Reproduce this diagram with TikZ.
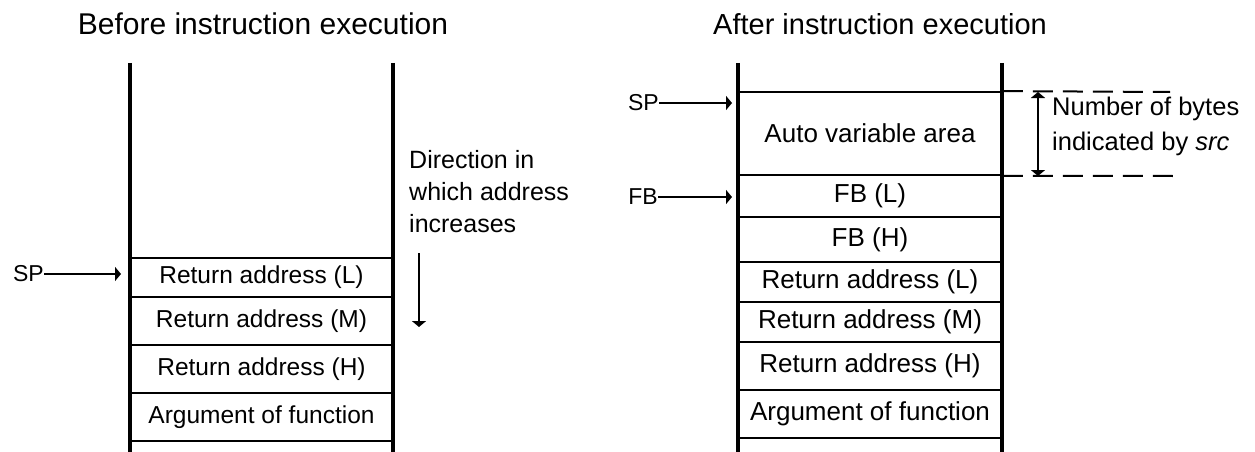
\documentclass[tikz,border=0pt]{standalone}
\usepackage{fontspec}
\setmainfont{Liberation Sans}
\usetikzlibrary{arrows.meta}

\begin{document}
\begin{tikzpicture}[x=1pt, y=-1pt, >={Triangle[length=6pt,width=14pt]}, every node/.style={inner sep=0pt},
  cell/.style={draw, line width=1.8pt, minimum width=263pt, font=\fontsize{24.5}{28}\selectfont},
  rcell/.style={cell, minimum width=264pt, font=\fontsize{26}{30}\selectfont},
  wall/.style={line width=3.6pt}, ptr/.style={anchor=east, font=\fontsize{23}{26}\selectfont},
  title/.style={anchor=base, font=\fontsize{29}{34}\selectfont}, gap/.style={line width=2pt, dash pattern=on 20pt off 10pt}]
\useasboundingbox (0,0) rectangle (1255,452);
\node[title, font=\fontsize{30}{34}\selectfont] (before) at (263,35) {Before instruction execution};
\node[title] (after) at (880,35) {After instruction execution};
\node[cell, minimum height=39pt] (LRAL) at (261.5,277.5) {Return address (L)};
\node[cell, minimum height=48pt] (LRAM) at (261.5,321) {Return address (M)};
\node[cell, minimum height=48pt] (LRAH) at (261.5,369) {Return address (H)};
\node[cell, minimum height=48pt] (LARG) at (261.5,417) {Argument of function};
\node[rcell, minimum height=83pt] (AUTO) at (870,133.5) {Auto variable area};
\node[rcell, minimum height=42pt] (FBL) at (870,196) {FB (L)};
\node[rcell, minimum height=45pt] (FBH) at (870,239.5) {FB (H)};
\node[rcell, minimum height=40pt] (RRAL) at (870,282) {Return address (L)};
\node[rcell, minimum height=40pt] (RRAM) at (870,322) {Return address (M)};
\node[rcell, minimum height=48pt] (RRAH) at (870,366) {Return address (H)};
\node[rcell, minimum height=48pt] (RARG) at (870,414) {Argument of function};
\draw[wall] (130,63) -- (130,452); \draw[wall] (393,63) -- (393,452);
\draw[wall] (738,63) -- (738,452); \draw[wall] (1002,63) -- (1002,452);
\node[ptr] (SPL) at (44,274) {SP};
\node[ptr] (SPR) at (659,103) {SP};
\node[ptr] (FBP) at (658,197) {FB};
\coordinate (SPLtip) at (121,274); \coordinate (SPRtip) at (732,103); \coordinate (FBPtip) at (732,197);
\node[anchor=north west, align=left, font=\fontsize{25}{32}\selectfont] (DIR) at (409,150) {Direction in\\which address\\increases};
\coordinate (DIRa) at (419,253); \coordinate (DIRb) at (419,327);
\node[anchor=north west, align=left, font=\fontsize{25.5}{35}\selectfont] (NB) at (1052,97) {Number of bytes\\indicated by \textit{src}};
\coordinate (GAPt) at (1170,92); \coordinate (GAPb) at (1175,176);
\coordinate (SPANt) at (1038,92); \coordinate (SPANb) at (1038,176);
\draw[->, line width=1.5pt] (SPL) -- (SPLtip); \draw[->, line width=1.5pt] (SPR) -- (SPRtip); \draw[->, line width=1.5pt] (FBP) -- (FBPtip);
\draw[->, line width=1.5pt] (DIRa) -- (DIRb);
\draw[gap] (AUTO.north east) -- (GAPt); \draw[gap] (AUTO.south east) -- (GAPb);
\draw[<->, line width=1.5pt] (SPANt) -- (SPANb);
\end{tikzpicture}
\end{document}
